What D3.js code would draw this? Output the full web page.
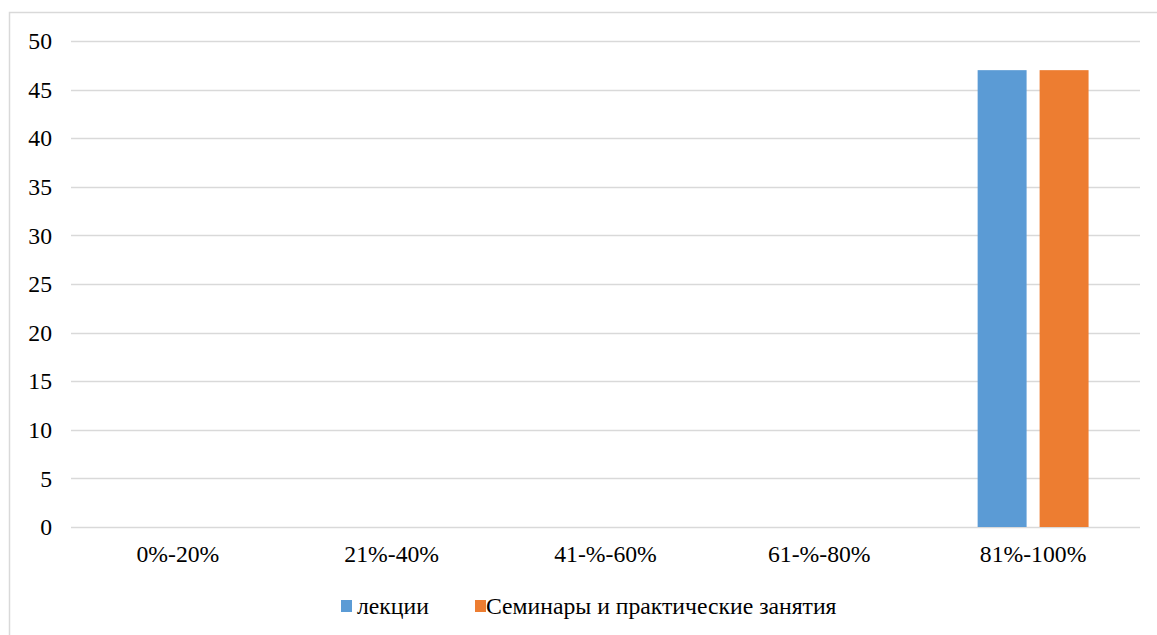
<!DOCTYPE html>
<html>
<head>
    <meta charset="UTF-8">
    <title>Chart</title>
    <script src="https://d3js.org/d3.v7.min.js"></script>
</head>
<body style="margin:0">
    <svg width="1157" height="635"></svg>
    <script>
        // data
        const categories = ["0%-20%", "21%-40%", "41-%-60%", "61-%-80%", "81%-100%"];
        const seriesNames = ["лекции", "Семинары и практические занятия"];
        const lectures = [0, 0, 0, 0, 47];
        const seminars = [0, 0, 0, 0, 47];
        const yTicks = [0, 5, 10, 15, 20, 25, 30, 35, 40, 45, 50];
        const colors = ["#5B9BD5", "#ED7D31"];

        const svg = d3.select("svg");
        const margin = { left: 71, right: 17, top: 41, bottom: 108 };
        const width = 1157, height = 635;
        const serif = "'Liberation Serif'";
        const fontSize = "23.7px";

        // chart area frame (only top and left edges visible)
        svg.append("path")
            .attr("d", `M9.5,${height} V12.5 H${width}`)
            .attr("fill", "none")
            .attr("stroke", "#d9d9d9")
            .attr("stroke-width", 1.5);

        const x = d3.scaleBand()
            .domain(categories)
            .range([margin.left, width - margin.right]);

        const xInner = d3.scaleBand()
            .domain(seriesNames)
            .range([0, x.bandwidth()])
            .paddingInner(0.21)
            .paddingOuter(0.83);

        const y = d3.scaleLinear()
            .domain([0, 50])
            .range([height - margin.bottom, margin.top]);

        // gridlines
        svg.append("g")
            .selectAll("line")
            .data(yTicks)
            .enter().append("line")
            .attr("x1", margin.left)
            .attr("x2", width - margin.right)
            .attr("y1", d => Math.round(y(d)) + 0.5)
            .attr("y2", d => Math.round(y(d)) + 0.5)
            .attr("stroke", "#d9d9d9")
            .attr("stroke-width", 1.5);

        // y labels
        svg.append("g")
            .selectAll("text")
            .data(yTicks)
            .enter().append("text")
            .attr("x", 52)
            .attr("y", d => y(d))
            .attr("dy", "0.35em")
            .attr("text-anchor", "end")
            .style("font-family", serif)
            .style("font-size", fontSize)
            .text(d => d);

        // bars
        const rows = categories.map((c, i) => ({ cat: c, vals: [lectures[i], seminars[i]] }));
        const groups = svg.append("g")
            .selectAll("g")
            .data(rows)
            .enter().append("g")
            .attr("transform", d => `translate(${x(d.cat)},0)`);

        groups.selectAll("rect")
            .data(d => d.vals.map((v, j) => ({ name: seriesNames[j], v: v, j: j })))
            .enter().append("rect")
            .attr("x", d => xInner(d.name))
            .attr("width", xInner.bandwidth())
            .attr("y", d => y(d.v))
            .attr("height", d => y(0) - y(d.v))
            .attr("fill", d => colors[d.j]);

        // x labels
        svg.append("g")
            .selectAll("text")
            .data(categories)
            .enter().append("text")
            .attr("x", d => x(d) + x.bandwidth() / 2)
            .attr("y", 562)
            .attr("text-anchor", "middle")
            .style("font-family", serif)
            .style("font-size", fontSize)
            .text(d => d);

        // legend
        const legendX = [341, 475];
        const legendTextX = [16, 11];
        const legend = svg.append("g")
            .selectAll("g")
            .data(seriesNames)
            .enter().append("g")
            .attr("transform", (d, i) => `translate(${legendX[i]},0)`);

        legend.append("rect")
            .attr("x", 0)
            .attr("y", 600)
            .attr("width", 11)
            .attr("height", 12)
            .attr("fill", (d, i) => colors[i]);

        legend.append("text")
            .attr("x", (d, i) => legendTextX[i])
            .attr("y", 614)
            .style("font-family", serif)
            .style("font-size", fontSize)
            .text(d => d);
    </script>
</body>
</html>
